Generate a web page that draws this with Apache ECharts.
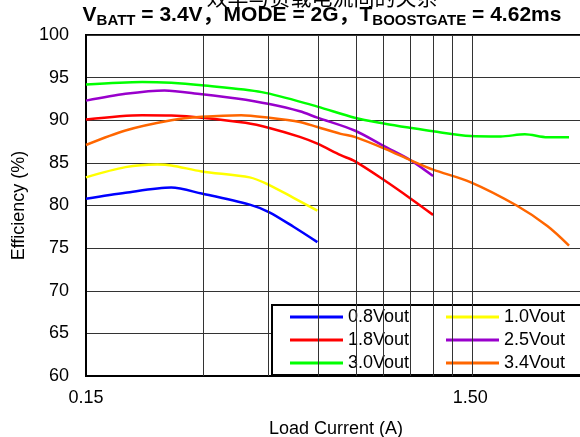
<!DOCTYPE html>
<html>
<head>
<meta charset="utf-8">
<style>
  html, body { margin: 0; padding: 0; background: #fff; }
  #chart { width: 580px; height: 437px; }
</style>
<script src="https://cdn.jsdelivr.net/npm/echarts@6/dist/echarts.min.js"></script>
</head>
<body>
<div id="chart"></div>
<script>
// load current (A) vs efficiency (%) for each output voltage
var names = ['0.8Vout', '1.0Vout', '1.8Vout', '2.5Vout', '3.0Vout', '3.4Vout']
var colors = ['#0000ff', '#ffff00', '#ff0000', '#9900cc', '#00ff00', '#ff6600']

var cur08 = [0.15, 0.19, 0.25, 0.3, 0.4, 0.45, 0.52, 0.6]
var eff08 = [80.8, 81.5, 82.1, 81.4, 80.1, 79.2, 77.5, 75.7]

var cur10 = [0.15, 0.19, 0.23, 0.25, 0.3, 0.4, 0.45, 0.52, 0.6]
var eff10 = [83.3, 84.5, 84.8, 84.7, 84.0, 83.3, 82.4, 80.9, 79.4]

var cur18 = [0.15, 0.21, 0.25, 0.3, 0.39, 0.45, 0.54, 0.6, 0.69, 0.75, 0.9, 1.05, 1.2]
var eff18 = [90.1, 90.6, 90.55, 90.3, 89.7, 89.1, 88.05, 87.25, 85.9, 85.2, 82.9, 80.8, 78.9]

var cur25 = [0.15, 0.19, 0.24, 0.3, 0.37, 0.45, 0.54, 0.6, 0.75, 0.9, 1.05, 1.2]
var eff25 = [92.3, 93.1, 93.5, 93.05, 92.55, 91.9, 91.05, 90.3, 88.8, 86.9, 85.3, 83.45]

var cur30 = [0.15, 0.21, 0.25, 0.3, 0.43, 0.6, 0.75, 0.9, 1.05, 1.2, 1.5, 1.8, 2.08, 2.38, 2.71]
var eff30 = [94.2, 94.5, 94.4, 94.1, 93.3, 91.6, 90.3, 89.6, 89.1, 88.7, 88.15, 88.1, 88.35, 88.0, 88.0]

var cur34 = [0.15, 0.19, 0.25, 0.3, 0.38, 0.45, 0.54, 0.6, 0.69, 0.75, 0.9, 1.05, 1.2, 1.5, 1.98, 2.38, 2.71]
var eff34 = [87.1, 88.8, 90.0, 90.4, 90.6, 90.3, 89.8, 89.2, 88.4, 88.05, 86.65, 85.3, 84.2, 82.75, 80.0, 77.6, 75.3]

var currents = [cur08, cur10, cur18, cur25, cur30, cur34]
var effs = [eff08, eff10, eff18, eff25, eff30, eff34]

// log-scale x axis settings (in A)
var xMin = 0.15
var xMax = 3.0
var xLabels = [0.15, 1.5]
var xGridLines = [0.3, 0.45, 0.6, 0.75, 0.9, 1.05, 1.2, 1.35, 1.5]

var FONT = 'Liberation Sans, Arial, Noto Sans CJK SC, sans-serif'

var chart = echarts.init(document.getElementById('chart'))

var series = names.map(function(name, i) {
  return {
    name: name,
    type: 'line',
    smooth: 0.3,
    symbol: 'none',
    color: colors[i],
    lineStyle: { color: colors[i], width: 2.5 },
    data: currents[i].map(function(c, j) { return [Math.log10(c), effs[i][j]] }),
    z: 3
  }
})

// vertical grid lines on the log axis
series.unshift({
  name: 'grid',
  type: 'line',
  data: [],
  silent: true,
  z: 1,
  markLine: {
    silent: true,
    symbol: ['none', 'none'],
    label: { show: false },
    lineStyle: { color: '#333', width: 1, type: 'solid' },
    data: xGridLines.map(function(v) { return { xAxis: Math.log10(v) } })
  }
})

var legendBase = {
  orient: 'vertical',
  itemGap: 5,
  itemWidth: 53,
  itemHeight: 3,
  icon: 'rect',
  textStyle: { fontFamily: FONT, fontSize: 18, color: '#000' }
}

chart.setOption({
  animation: false,
  backgroundColor: '#fff',
  title: [
    {
      text: '效率与负载电流间的关系',
      left: 322,
      textAlign: 'center',
      top: -13,
      padding: 0,
      textStyle: { fontFamily: 'Noto Sans CJK SC', fontSize: 21, fontWeight: 'normal', color: '#000', lineHeight: 21 }
    },
    {
      text: '{b|V}{s|BATT}{b| = 3.4V，MODE = 2G，T}{s|BOOSTGATE}{b| = 4.62ms}',
      left: 322,
      textAlign: 'center',
      top: 2,
      padding: 0,
      textStyle: {
        rich: {
          b: { fontFamily: FONT, fontSize: 21, fontWeight: 'bold', color: '#000', lineHeight: 26 },
          s: { fontFamily: FONT, fontSize: 15, fontWeight: 'bold', color: '#000', lineHeight: 12, verticalAlign: 'bottom' }
        }
      }
    }
  ],
  grid: {
    left: 86,
    top: 35,
    width: 500,
    bottom: 61,
    outerBoundsMode: 'none',
    containLabel: false,
    show: true,
    borderColor: '#000',
    borderWidth: 2,
    backgroundColor: 'transparent'
  },
  legend: [
    Object.assign({}, legendBase, {
      left: 272,
      top: 305,
      padding: [3, 185, 3, 18],
      borderColor: '#000',
      borderWidth: 2,
      backgroundColor: '#fff',
      data: [names[0], names[2], names[4]]
    }),
    Object.assign({}, legendBase, {
      left: 446,
      top: 308,
      padding: 0,
      data: [names[1], names[3], names[5]]
    })
  ],
  xAxis: {
    type: 'value',
    min: Math.log10(xMin),
    max: Math.log10(xMax),
    name: 'Load Current (A)',
    nameLocation: 'middle',
    nameGap: 44,
    nameTextStyle: { fontFamily: FONT, fontSize: 18, color: '#000' },
    axisLine: { show: true, onZero: false, lineStyle: { color: '#000', width: 2 } },
    axisTick: { show: false },
    splitLine: { show: false },
    axisLabel: {
      customValues: xLabels.map(function(v) { return Math.log10(v) }),
      formatter: function(v) { return Math.pow(10, v).toFixed(2) },
      fontFamily: FONT,
      fontSize: 18,
      color: '#000',
      margin: 13
    }
  },
  yAxis: {
    type: 'value',
    min: 60,
    max: 100,
    interval: 5,
    name: 'Efficiency (%)',
    nameLocation: 'middle',
    nameGap: 58,
    nameTextStyle: { fontFamily: FONT, fontSize: 18, color: '#000' },
    axisLine: { show: true, onZero: false, lineStyle: { color: '#000', width: 2 } },
    axisTick: { show: false },
    splitLine: { show: true, lineStyle: { color: '#333', width: 1 } },
    axisLabel: { fontFamily: FONT, fontSize: 18, color: '#000', margin: 17 }
  },
  series: series
})
</script>
</body>
</html>
